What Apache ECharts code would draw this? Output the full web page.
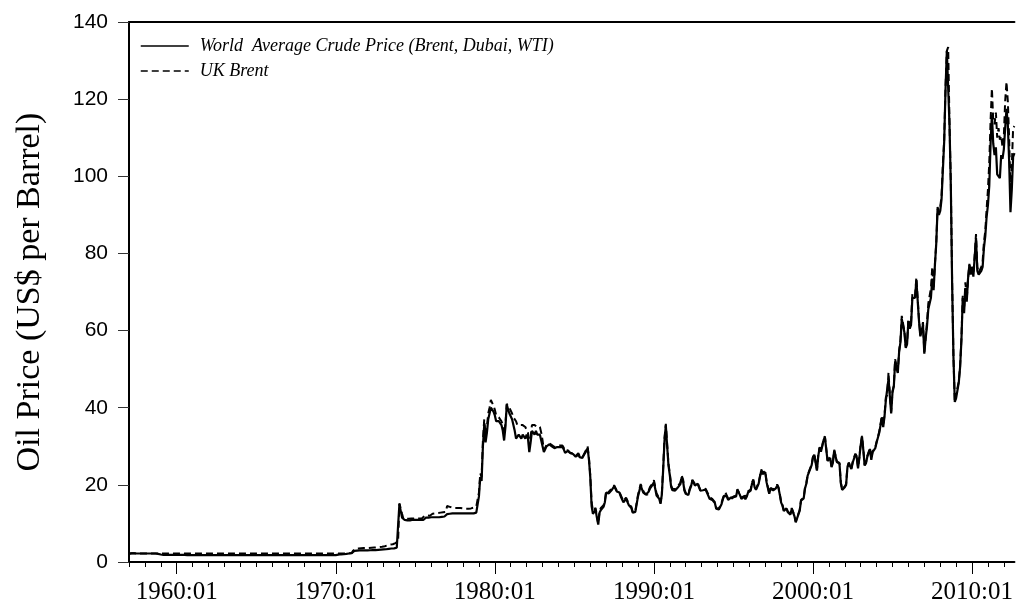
<!DOCTYPE html>
<html>
<head>
<meta charset="utf-8">
<script src="https://cdn.jsdelivr.net/npm/echarts@6/dist/echarts.min.js"></script>
<style>
html,body{margin:0;padding:0;background:#fff;}
#chart{width:1016px;height:608px;}
</style>
</head>
<body>
<div id="chart"></div>
<script>
// Monthly series, 1957:01 .. 2012:09
const startYear = 1957;
const worldAvg = [
// 1957
2.15,2.2,2.25,2.25,2.25,2.2,2.2,2.2,2.2,2.2,2.2,2.2,
// 1958
2.2,2.2,2.2,2.2,2.2,2.2,2.2,2.2,2.2,2.15,2.1,2.05,
// 1959
1.95,1.9,1.85,1.85,1.85,1.85,1.85,1.85,1.85,1.85,1.85,1.85,
// 1960
1.85,1.85,1.85,1.85,1.85,1.85,1.85,1.8,1.78,1.78,1.78,1.78,
// 1961
1.78,1.78,1.78,1.78,1.78,1.78,1.78,1.78,1.78,1.78,1.78,1.78,
// 1962
1.78,1.78,1.78,1.78,1.78,1.78,1.78,1.78,1.78,1.78,1.78,1.78,
// 1963
1.78,1.78,1.78,1.78,1.78,1.78,1.78,1.78,1.78,1.78,1.78,1.78,
// 1964
1.78,1.78,1.78,1.78,1.78,1.78,1.78,1.78,1.78,1.78,1.78,1.78,
// 1965
1.78,1.78,1.78,1.78,1.78,1.78,1.78,1.78,1.78,1.78,1.78,1.78,
// 1966
1.78,1.78,1.78,1.78,1.78,1.78,1.78,1.78,1.78,1.78,1.78,1.78,
// 1967
1.78,1.78,1.78,1.78,1.78,1.78,1.78,1.78,1.78,1.78,1.78,1.78,
// 1968
1.78,1.78,1.78,1.78,1.78,1.78,1.78,1.78,1.78,1.78,1.78,1.78,
// 1969
1.78,1.78,1.78,1.78,1.78,1.78,1.78,1.78,1.78,1.78,1.78,1.78,
// 1970
1.8,1.85,1.9,1.95,2.0,2.0,2.05,2.1,2.1,2.15,2.2,2.25,
// 1971
2.3,2.6,2.9,2.95,2.95,3.0,3.0,3.0,3.0,3.0,3.0,3.0,
// 1972
3.0,3.05,3.05,3.05,3.1,3.1,3.1,3.1,3.15,3.15,3.2,3.2,
// 1973
3.25,3.3,3.3,3.35,3.4,3.45,3.5,3.5,3.55,3.6,3.7,3.8,
// 1974
15.0,14.6,11.5,11.0,10.9,10.8,10.8,10.8,10.8,10.9,11.0,10.9,
// 1975
10.9,10.9,10.9,10.9,10.9,10.9,10.9,11.3,11.5,11.5,11.5,11.5,
// 1976
11.6,11.6,11.6,11.6,11.6,11.6,11.6,11.6,11.7,11.7,11.8,11.8,
// 1977
12.4,12.5,12.5,12.6,12.6,12.6,12.6,12.6,12.6,12.6,12.6,12.6,
// 1978
12.6,12.6,12.6,12.6,12.6,12.6,12.6,12.6,12.6,12.7,12.8,13.2,
// 1979
17.0,22.0,21.0,30.0,35.5,31.0,33.5,37.0,38.5,40.0,40.5,39.0,
// 1980
38.0,36.5,36.0,36.5,36.0,35.5,34.0,31.5,35.0,40.8,39.5,38.5,
// 1981
38.0,37.0,36.5,34.0,32.0,32.5,33.0,32.5,32.0,33.0,32.5,32.0,
// 1982
33.0,32.0,28.5,31.0,34.0,33.5,33.0,34.0,33.0,32.5,33.0,31.5,
// 1983
31.0,28.5,29.0,30.0,30.5,30.5,30.0,30.0,30.0,29.5,29.8,29.8,
// 1984
29.8,29.8,30.0,29.8,29.2,28.3,28.5,28.8,28.6,28.2,28.5,28.0,
// 1985
27.8,27.3,27.6,27.8,27.2,26.8,27.0,27.6,28.2,28.8,29.5,26.5,
// 1986
22.0,14.5,12.5,12.3,13.5,11.5,9.7,12.8,13.5,13.8,14.3,15.5,
// 1987
18.0,17.5,17.8,18.3,18.6,19.0,19.6,19.0,18.3,18.6,18.0,17.0,
// 1988
16.5,15.5,15.2,16.4,16.0,14.8,14.5,14.0,12.8,12.5,13.0,15.0,
// 1989
17.0,17.2,19.8,19.5,18.0,17.5,17.5,17.2,18.2,19.0,19.4,20.0,
// 1990
20.7,19.0,17.2,16.8,16.4,15.1,17.5,24.0,31.5,35.4,30.0,25.0,
// 1991
22.5,19.5,18.6,19.0,18.5,18.2,19.3,19.6,20.2,22.0,21.0,18.5,
// 1992
17.7,17.6,17.4,18.7,19.6,21.1,20.5,19.8,20.2,20.3,19.4,18.5,
// 1993
18.2,18.6,18.7,18.8,18.5,17.2,16.4,16.6,16.1,16.5,15.3,13.8,
// 1994
14.0,13.6,13.6,15.0,16.2,17.2,17.7,17.0,16.1,16.4,16.7,16.2,
// 1995
16.8,17.2,17.0,18.7,18.5,17.3,16.4,16.6,16.9,16.3,16.9,18.0,
// 1996
18.2,18.5,20.3,21.1,19.4,18.7,19.5,20.3,22.0,23.7,22.8,23.3,
// 1997
23.3,20.7,19.2,17.7,19.0,19.4,18.6,18.9,19.1,19.8,19.2,17.4,
// 1998
15.4,14.6,13.2,13.4,13.9,12.9,12.5,12.3,13.8,13.3,11.9,10.3,
// 1999
11.3,11.0,13.3,15.9,15.9,16.5,19.1,20.3,22.4,22.0,24.2,25.1,
// 2000
27.1,27.8,27.4,23.7,27.5,29.6,28.6,30.0,31.6,32.4,32.0,26.2,
// 2001
26.2,27.0,24.6,25.6,28.9,27.5,25.9,25.7,25.5,20.5,18.7,18.7,
// 2002
19.4,20.0,24.5,25.6,25.3,24.1,25.8,26.2,27.9,27.2,24.3,27.0,
// 2003
30.3,32.5,29.0,25.0,25.6,27.3,28.3,29.3,26.5,28.5,28.5,29.5,
// 2004
31.0,31.0,33.5,34.0,37.5,35.0,37.8,42.0,42.5,47.5,43.0,38.5,
// 2005
44.0,45.5,52.0,52.5,49.0,54.5,57.0,63.0,63.5,59.5,55.5,56.5,
// 2006
62.5,60.5,61.5,68.5,69.0,68.5,73.0,72.5,62.5,58.5,58.5,61.5,
// 2007
54.0,58.0,61.0,65.5,65.0,68.5,73.5,70.5,77.0,82.5,91.5,90.0,
// 2008
91.0,94.0,101.5,109.0,122.5,132.5,133.0,113.5,97.5,72.0,53.0,41.5,
// 2009
42.5,42.0,46.5,50.5,57.5,68.5,64.5,71.0,67.5,73.5,77.0,74.5,
// 2010
76.5,74.0,79.0,84.0,75.5,74.5,74.5,75.5,76.5,81.5,84.5,89.5,
// 2011
92.5,97.5,108.5,116.0,108.5,105.5,107.5,100.5,100.5,99.5,105.5,104.5,
// 2012
107.0,112.5,117.5,113.5,104.0,90.7,96.5,105.0,106.0
];

const ukBrent = [
// 1957
2.15,2.2,2.25,2.25,2.25,2.2,2.2,2.2,2.2,2.2,2.2,2.2,
// 1958
2.2,2.2,2.2,2.2,2.2,2.2,2.2,2.2,2.2,2.2,2.2,2.2,
// 1959
2.2,2.2,2.2,2.2,2.2,2.2,2.2,2.2,2.2,2.2,2.2,2.2,
// 1960
2.2,2.2,2.2,2.2,2.2,2.2,2.2,2.2,2.2,2.2,2.2,2.2,
// 1961
2.2,2.2,2.2,2.2,2.2,2.2,2.2,2.2,2.2,2.2,2.2,2.2,
// 1962
2.2,2.2,2.2,2.2,2.2,2.2,2.2,2.2,2.2,2.2,2.2,2.2,
// 1963
2.2,2.2,2.2,2.2,2.2,2.2,2.2,2.2,2.2,2.2,2.2,2.2,
// 1964
2.2,2.2,2.2,2.2,2.2,2.2,2.2,2.2,2.2,2.2,2.2,2.2,
// 1965
2.2,2.2,2.2,2.2,2.2,2.2,2.2,2.2,2.2,2.2,2.2,2.2,
// 1966
2.2,2.2,2.2,2.2,2.2,2.2,2.2,2.2,2.2,2.2,2.2,2.2,
// 1967
2.2,2.2,2.2,2.2,2.2,2.2,2.2,2.2,2.2,2.2,2.2,2.2,
// 1968
2.2,2.2,2.2,2.2,2.2,2.2,2.2,2.2,2.2,2.2,2.2,2.2,
// 1969
2.2,2.2,2.2,2.2,2.2,2.2,2.2,2.2,2.2,2.2,2.2,2.2,
// 1970
2.2,2.2,2.2,2.2,2.2,2.2,2.2,2.2,2.2,2.22,2.24,2.25,
// 1971
2.3,2.9,3.4,3.45,3.5,3.5,3.55,3.55,3.6,3.6,3.6,3.6,
// 1972
3.6,3.65,3.7,3.7,3.7,3.75,3.8,3.8,3.8,3.85,3.9,3.95,
// 1973
4.0,4.1,4.2,4.3,4.4,4.5,4.6,4.6,4.7,4.9,5.1,5.4,
// 1974
15.2,15.0,12.5,11.2,11.2,11.2,11.2,11.2,11.2,11.3,11.3,11.3,
// 1975
11.3,11.3,11.3,11.3,11.3,11.3,11.5,12.0,12.2,12.1,12.0,12.0,
// 1976
12.4,12.5,12.5,12.6,12.7,12.7,12.8,12.8,12.9,12.9,12.9,13.0,
// 1977
14.5,14.5,14.3,14.2,14.1,14.0,14.0,14.0,14.0,14.0,14.0,14.0,
// 1978
13.9,13.8,13.8,13.8,13.8,13.8,13.9,14.0,14.1,14.2,14.4,14.8,
// 1979
18.0,23.0,22.0,31.5,37.0,33.0,35.0,38.5,40.0,42.0,41.5,40.5,
// 1980
39.5,38.0,37.5,37.5,37.0,36.5,35.5,33.0,36.0,41.0,40.5,40.0,
// 1981
39.5,38.5,37.5,37.0,36.5,35.5,35.0,35.5,36.0,35.5,35.0,35.0,
// 1982
35.0,33.5,30.0,32.5,35.5,35.0,35.5,36.0,35.0,34.5,35.0,33.5,
// 1983
31.5,29.0,29.5,30.3,30.8,30.8,30.3,30.3,30.3,29.8,30.0,30.0,
// 1984
30.0,30.2,30.5,30.2,29.6,28.8,28.6,29.0,28.8,28.3,28.7,28.2,
// 1985
28.0,27.5,28.0,28.2,27.5,27.0,27.2,27.8,28.5,29.2,30.0,27.0,
// 1986
22.5,15.5,13.3,12.8,14.0,12.0,9.9,13.2,14.0,14.2,14.7,15.8,
// 1987
18.5,17.8,18.0,18.6,18.9,19.2,19.9,19.2,18.5,18.8,18.2,17.3,
// 1988
16.8,15.8,15.4,16.7,16.3,15.2,14.8,14.3,13.0,12.7,13.3,15.4,
// 1989
17.4,17.6,20.2,20.0,18.4,17.8,17.8,17.4,18.5,19.4,19.7,20.4,
// 1990
21.2,19.5,17.8,17.2,16.8,15.4,17.8,24.6,32.2,35.8,30.6,25.5,
// 1991
23.0,19.8,19.0,19.4,18.9,18.6,19.6,20.0,20.6,22.4,21.4,18.8,
// 1992
18.0,18.0,17.7,19.0,19.9,21.3,20.8,20.2,20.6,20.6,19.6,18.7,
// 1993
18.4,18.8,18.9,19.0,18.7,17.6,16.8,17.0,16.4,16.9,15.5,14.0,
// 1994
14.2,13.8,13.8,15.3,16.5,17.4,18.0,17.2,16.4,16.6,17.0,16.4,
// 1995
17.0,17.4,17.2,18.9,18.7,17.5,16.7,16.9,17.1,16.6,17.2,18.3,
// 1996
18.5,18.8,20.6,21.4,19.6,18.9,19.8,20.5,22.3,24.0,23.1,23.6,
// 1997
23.6,20.9,19.4,17.9,19.2,19.6,18.8,19.1,19.3,20.1,19.4,17.6,
// 1998
15.6,14.8,13.4,13.6,14.1,13.1,12.7,12.5,14.0,13.5,12.1,10.5,
// 1999
11.5,11.2,13.5,16.1,16.1,16.7,19.3,20.5,22.6,22.2,24.4,25.3,
// 2000
27.3,28.0,27.6,23.9,27.7,29.8,28.8,30.2,31.8,32.6,32.2,26.4,
// 2001
26.4,27.2,24.8,25.8,29.1,27.7,26.1,25.9,25.7,20.7,18.9,18.9,
// 2002
19.6,20.2,24.7,25.8,25.5,24.3,26.0,26.4,28.1,27.4,24.5,27.2,
// 2003
30.5,32.7,29.2,25.2,25.8,27.5,28.5,29.5,26.7,28.7,28.7,29.7,
// 2004
31.2,31.2,33.8,34.3,37.9,35.3,38.3,42.7,43.3,49.2,43.4,39.0,
// 2005
44.3,45.8,52.6,52.8,49.2,54.8,57.5,63.8,63.8,59.8,55.8,56.8,
// 2006
63.0,60.8,62.0,69.5,69.8,68.8,73.8,73.3,62.8,58.8,59.0,62.2,
// 2007
54.4,58.0,62.0,67.0,67.5,71.0,76.5,70.8,77.2,82.6,92.0,91.0,
// 2008
92.0,94.8,103.3,109.5,123.0,132.5,133.5,113.9,98.5,72.5,53.0,41.5,
// 2009
43.5,43.0,46.8,50.8,58.0,69.0,65.5,72.5,67.8,73.5,77.3,74.8,
// 2010
77.0,74.5,79.5,85.0,76.5,75.0,75.0,76.5,78.0,83.0,85.8,91.5,
// 2011
96.5,103.5,114.5,122.8,114.5,113.5,116.5,110.0,112.5,109.5,110.5,107.5,
// 2012
110.5,119.5,124.5,119.5,110.0,95.5,102.5,112.5,113.0
];

const seriesNames = ['World  Average Crude Price (Brent, Dubai, WTI)', 'UK Brent'];
const decadeLabels = ['1960:01','1970:01','1980:01','1990:01','2000:01','2010:01'];
const yTicks = [0, 20, 40, 60, 80, 100, 120, 140];
const yAxisTitle = 'Oil Price (US$ per Barrel)';

// month categories "YYYY:MM"
const months = worldAvg.map((_, i) => {
  const y = startYear + Math.floor(i / 12);
  const m = (i % 12) + 1;
  return y + ':' + (m < 10 ? '0' + m : '' + m);
});

const chart = echarts.init(document.getElementById('chart'), null, {renderer: 'canvas'});
const serif = 'Liberation Serif';
const sans = 'Liberation Sans';

chart.setOption({
  animation: false,
  backgroundColor: '#ffffff',
  grid: {left: 129, right: 0, top: 22, bottom: 46, containLabel: false},
  legend: {
    orient: 'vertical',
    left: 140,
    top: 37,
    padding: 0,
    itemWidth: 48,
    itemHeight: 14,
    itemGap: 7,
    data: seriesNames,
    itemStyle: {opacity: 0},
    lineStyle: {width: 1.5},
    textStyle: {fontFamily: serif, fontStyle: 'italic', fontSize: 18, color: '#000', padding: [0, 0, 0, 6]}
  },
  xAxis: [
    {
      type: 'category', data: months, boundaryGap: false, position: 'bottom',
      axisLine: {show: true, onZero: false, lineStyle: {color: '#000', width: 2}},
      axisTick: {show: true, length: 5, interval: (i) => i % 12 === 0, lineStyle: {color: '#000', width: 1}},
      axisLabel: {
        show: true, margin: 18, interval: (i, v) => decadeLabels.indexOf(v) >= 0,
        fontFamily: serif, fontSize: 25, color: '#000'
      },
      splitLine: {show: false}
    },
    {
      type: 'category', data: months, boundaryGap: false, position: 'bottom',
      axisLine: {show: false, onZero: false},
      axisTick: {show: true, length: 12, interval: (i, v) => decadeLabels.indexOf(v) >= 0, lineStyle: {color: '#000', width: 1}},
      axisLabel: {show: false},
      splitLine: {show: false}
    },
    {
      type: 'category', data: months, boundaryGap: false, position: 'top',
      axisLine: {show: true, onZero: false, lineStyle: {color: '#000', width: 2}},
      axisTick: {show: false},
      axisLabel: {show: false},
      splitLine: {show: false}
    }
  ],
  yAxis: {
    type: 'value', min: 0, max: 140, interval: 20,
    name: yAxisTitle, nameLocation: 'middle', nameGap: 82,
    nameTextStyle: {fontFamily: serif, fontSize: 34, color: '#000'},
    axisLine: {show: true, lineStyle: {color: '#000', width: 2}},
    axisTick: {show: true, length: 11, lineStyle: {color: '#333', width: 1}},
    axisLabel: {margin: 21, fontFamily: sans, fontSize: 21, color: '#000',
      formatter: (v) => yTicks.indexOf(v) >= 0 ? String(v) : ''},
    splitLine: {show: false}
  },
  series: [
    {
      name: seriesNames[0], type: 'line', data: worldAvg, xAxisIndex: 0,
      symbol: 'none', showSymbol: false,
      lineStyle: {color: '#000', width: 2.2, type: 'solid'},
      itemStyle: {color: '#000'}
    },
    {
      name: seriesNames[1], type: 'line', data: ukBrent, xAxisIndex: 0,
      symbol: 'none', showSymbol: false,
      lineStyle: {color: '#000', width: 2, type: [7, 4]},
      itemStyle: {color: '#000'}
    }
  ]
});
</script>
</body>
</html>
